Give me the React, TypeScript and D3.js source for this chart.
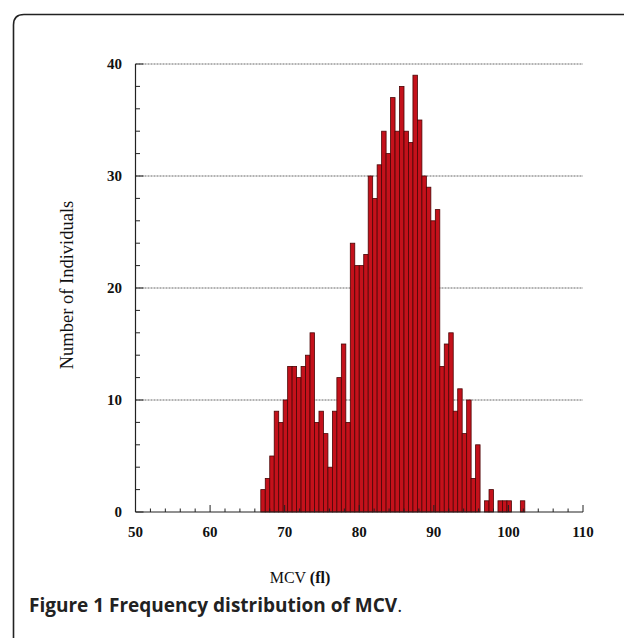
import React from "react";
import * as d3 from "d3";

// Histogram of MCV (fl): bin start, bin width, counts per bin
const binStart = 66.8;
const binWidth = 0.6;
const counts = [
  2, 3, 5, 9, 8, 10, 13, 13, 12, 13, 14, 16, 8, 9, 7, 4, 9, 12, 15, 8,
  24, 22, 22, 23, 30, 28, 31, 34, 32, 37, 34, 38, 34, 33, 39, 35, 30, 29, 26, 27,
  13, 15, 16, 9, 11, 7, 10, 3, 6, 0, 1, 2, 0, 1, 1, 1, 0, 0, 1,
];
const xTickLabels = [50, 60, 70, 80, 90, 100, 110];
const yTickLabels = [0, 10, 20, 30, 40];
const xMinorTicks = d3.range(50, 111, 2);
const yMinorTicks = d3.range(0, 41, 2);

const W = 624;
const H = 638;

export default function App() {
  const x = d3.scaleLinear().domain([50, 110]).range([135.5, 583]);
  const y = d3.scaleLinear().domain([0, 40]).range([512, 64]);
  const bins = counts.map((c, i) => ({
    x0: binStart + i * binWidth,
    x1: binStart + (i + 1) * binWidth,
    c,
  }));
  const serif = "'Liberation Serif', 'DejaVu Serif', serif";
  return (
    <svg
      width={W}
      height={H}
      style={{ position: "absolute", left: 0, top: 0, background: "#fff" }}
    >
      {/* card border */}
      <path
        d={`M13.5,${H} L13.5,25 Q13.5,14.5 24,14.5 L${W},14.5`}
        fill="none"
        stroke="#222"
        strokeWidth={1.6}
      />
      {/* gridlines */}
      {yTickLabels
        .filter((v) => v > 0)
        .map((v) => (
          <line
            key={"g" + v}
            x1={x(50)}
            x2={x(110)}
            y1={y(v)}
            y2={y(v)}
            stroke="#666"
            strokeWidth={1}
            strokeDasharray="2,1"
          />
        ))}
      {/* bars */}
      {bins
        .filter((b) => b.c > 0)
        .map((b, i) => (
          <rect
            key={"b" + i}
            x={x(b.x0)}
            y={y(b.c)}
            width={x(b.x1) - x(b.x0)}
            height={y(0) - y(b.c)}
            fill="#c4111b"
            stroke="#4a0505"
            strokeWidth={0.8}
          />
        ))}
      {/* x axis */}
      <line x1={x(50)} x2={x(110)} y1={y(0)} y2={y(0)} stroke="#222" strokeWidth={1.2} />
      {xMinorTicks.map((v) => (
        <line
          key={"xt" + v}
          x1={x(v)}
          x2={x(v)}
          y1={y(0)}
          y2={y(0) - (v % 10 === 0 ? 7 : 3.5)}
          stroke="#222"
          strokeWidth={1}
        />
      ))}
      {xTickLabels.map((v) => (
        <text
          key={"xl" + v}
          x={x(v)}
          y={537}
          textAnchor="middle"
          fontFamily={serif}
          fontWeight="bold"
          fontSize={15}
          fill="#111"
        >
          {v}
        </text>
      ))}
      {/* y axis */}
      <line x1={x(50)} x2={x(50)} y1={y(0)} y2={y(40)} stroke="#222" strokeWidth={1.2} />
      {yMinorTicks.map((v) => (
        <line
          key={"yt" + v}
          x1={x(50)}
          x2={x(50) + (v % 10 === 0 ? 8 : 4.5)}
          y1={y(v)}
          y2={y(v)}
          stroke="#222"
          strokeWidth={1}
        />
      ))}
      {yTickLabels.map((v) => (
        <text
          key={"yl" + v}
          x={122}
          y={y(v) + 5}
          textAnchor="end"
          fontFamily={serif}
          fontWeight="bold"
          fontSize={15}
          fill="#111"
        >
          {v}
        </text>
      ))}
      {/* axis titles */}
      <text
        x={300}
        y={583}
        textAnchor="middle"
        fontFamily={serif}
        fontSize={16}
        fill="#111"
      >
        MCV <tspan fontWeight="bold">(fl)</tspan>
      </text>
      <text
        transform={`translate(73,${285}) rotate(-90)`}
        textAnchor="middle"
        fontFamily={serif}
        fontSize={18.5}
        fill="#111"
      >
        Number of Individuals
      </text>
      {/* caption */}
      <text
        x={29}
        y={612}
        fontFamily="'Open Sans', 'Noto Sans', sans-serif"
        fontSize={19}
        fontWeight="bold"
        fill="#222"
      >
        Figure 1 Frequency distribution of MCV
        <tspan fontWeight="normal">.</tspan>
      </text>
    </svg>
  );
}
